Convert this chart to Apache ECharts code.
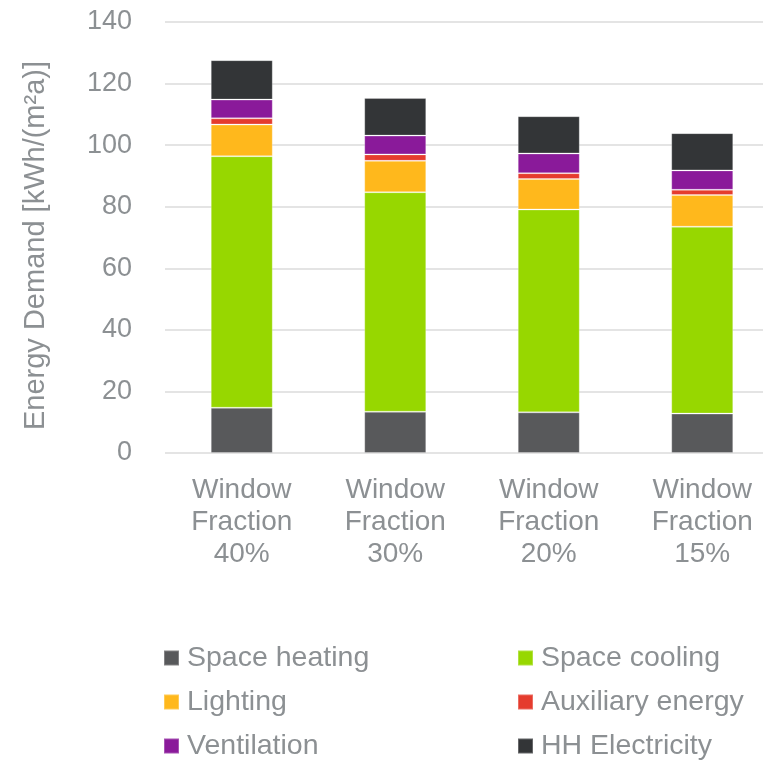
<!DOCTYPE html>
<html>
<head>
<meta charset="utf-8">
<script src="https://cdn.jsdelivr.net/npm/echarts@6/dist/echarts.min.js"></script>
<style>
  html, body { margin: 0; padding: 0; background: #ffffff; overflow: hidden; }
  #chart { width: 779px; height: 780px; }
</style>
</head>
<body>
<div id="chart"></div>
<script>
// Energy demand by window fraction, stacked by end use [kWh/(m²a)]
const categories = ['Window\nFraction\n40%', 'Window\nFraction\n30%', 'Window\nFraction\n20%', 'Window\nFraction\n15%'];

const spaceHeating   = [14.7, 13.4, 13.2, 12.8];
const spaceCooling   = [81.7, 71.3, 65.9, 60.7];
const lighting       = [10.3, 10.2,  9.9, 10.3];
const auxiliary      = [ 2.0,  2.1,  1.9,  1.7];
const ventilation    = [ 6.1,  6.1,  6.4,  6.3];
const hhElectricity  = [12.8, 12.2, 12.1, 12.1];

const seriesNames  = ['Space heating', 'Space cooling', 'Lighting', 'Auxiliary energy', 'Ventilation', 'HH Electricity'];
const seriesValues = [spaceHeating, spaceCooling, lighting, auxiliary, ventilation, hhElectricity];
const seriesColors = ['#58595b', '#97d700', '#ffb81c', '#e53c2e', '#8a1a9a', '#333537'];

const yTicks = { min: 0, max: 140, interval: 20 };

const textColor = '#8c9093';
const fontFamily = '"Liberation Sans", Arial, sans-serif';

const chart = echarts.init(document.getElementById('chart'));

const legendCommon = {
  orient: 'vertical',
  top: 636,
  padding: 0,
  itemWidth: 15,
  itemHeight: 15,
  itemGap: 0,
  icon: 'rect',
  textStyle: {
    color: textColor,
    fontSize: 28.5,
    fontFamily: fontFamily,
    lineHeight: 44,
    padding: [0, 0, 0, 3]
  }
};

chart.setOption({
  animation: false,
  backgroundColor: '#ffffff',
  textStyle: { fontFamily: fontFamily },
  grid: { left: 165, top: 22, width: 614, height: 431, containLabel: false },
  legend: [
    Object.assign({ left: 163, data: [seriesNames[0], seriesNames[2], seriesNames[4]] }, legendCommon),
    Object.assign({ left: 517, data: [seriesNames[1], seriesNames[3], seriesNames[5]] }, legendCommon)
  ],
  xAxis: {
    type: 'category',
    data: categories,
    axisLine: { show: false },
    axisTick: { show: false },
    axisLabel: {
      color: textColor,
      fontSize: 28,
      fontFamily: fontFamily,
      lineHeight: 32,
      margin: 21
    }
  },
  yAxis: {
    type: 'value',
    min: yTicks.min,
    max: yTicks.max,
    interval: yTicks.interval,
    name: 'Energy Demand [kWh/(m²a)]',
    nameLocation: 'middle',
    nameGap: 115,
    nameTextStyle: { color: textColor, fontSize: 29, fontFamily: fontFamily, padding: [0, 16, 0, 0] },
    axisLine: { show: false },
    axisTick: { show: false },
    axisLabel: { color: textColor, fontSize: 27, fontFamily: fontFamily, margin: 33 },
    splitLine: { lineStyle: { color: '#e4e4e4', width: 2 } }
  },
  series: seriesNames.map((name, i) => ({
    name: name,
    type: 'bar',
    stack: 'total',
    barWidth: 62,
    data: seriesValues[i],
    itemStyle: { color: seriesColors[i], borderColor: 'rgba(255,255,255,0.25)', borderWidth: 1 }
  }))
});
</script>
</body>
</html>
